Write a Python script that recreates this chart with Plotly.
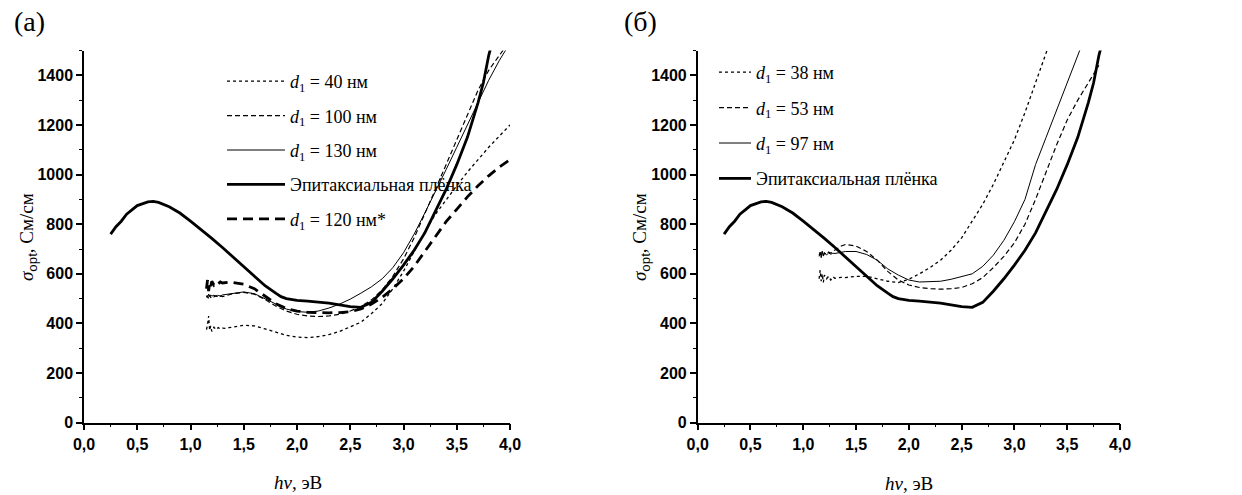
import plotly.graph_objects as go

# ---------------- data ----------------
# common noisy start region of the thin-film spectra
hv_noise = [1.15, 1.16, 1.17, 1.18, 1.19, 1.20, 1.22, 1.24, 1.26, 1.28, 1.30, 1.33, 1.36]

# epitaxial film (same in both panels)
epi_hv = [0.25, 0.3, 0.35, 0.4, 0.5, 0.6, 0.65, 0.7, 0.8, 0.9, 1.0, 1.1, 1.2, 1.3, 1.4, 1.5,
          1.6, 1.7, 1.8, 1.85, 1.9, 2.0, 2.1, 2.2, 2.3, 2.4, 2.5, 2.6, 2.7, 2.8, 2.9, 3.0, 3.1,
          3.2, 3.3, 3.4, 3.5, 3.6, 3.7, 3.75, 3.8, 3.85]
epi_sigma = [760, 790, 812, 840, 875, 890, 892, 888, 870, 845, 812, 778, 743, 706, 668, 630,
             590, 552, 522, 508, 500, 493, 490, 487, 482, 475, 468, 465, 485, 530, 580, 635, 695,
             765, 850, 940, 1040, 1150, 1290, 1370, 1480, 1560]

# panel (a)
hv_a = [1.4, 1.5, 1.6, 1.7, 1.8, 1.9, 2.0, 2.1, 2.2, 2.3, 2.4, 2.5, 2.6, 2.7, 2.8, 2.9,
        3.0, 3.1, 3.2, 3.3, 3.4, 3.5, 3.6, 3.7, 3.8, 3.9, 4.0]
a_d40_noise = [375, 395, 430, 372, 390, 368, 385, 375, 383, 378, 381, 380, 383]
a_d40 = [385, 393, 390, 378, 365, 352, 345, 343, 347, 355, 368, 385, 405, 440, 480, 540,
         610, 690, 770, 840, 900, 955, 1010, 1060, 1110, 1155, 1200]
a_d100_noise = [505, 512, 500, 515, 503, 510, 507, 513, 505, 511, 508, 512, 515]
a_d100 = [520, 525, 518, 497, 470, 450, 437, 430, 428, 430, 437, 450, 468, 495, 535, 590,
          660, 745, 840, 940, 1040, 1140, 1240, 1340, 1420, 1480, 1540]
a_d130_noise = [512, 505, 518, 508, 515, 510, 514, 508, 513, 510, 515, 517, 520]
a_d130 = [522, 527, 520, 500, 478, 458, 448, 445, 450, 462, 478, 498, 522, 548, 580, 625,
          685, 760, 845, 930, 1020, 1110, 1200, 1290, 1380, 1460, 1530]
a_d120_noise = [540, 575, 530, 565, 550, 570, 555, 565, 560, 567, 563, 566, 566]
a_d120 = [565, 558, 540, 510, 480, 460, 450, 445, 443, 443, 444, 447, 458, 478, 505, 540,
          580, 630, 690, 750, 810, 860, 910, 955, 995, 1030, 1060]

# panel (b)
hv_b38 = [1.4, 1.5, 1.6, 1.7, 1.8, 1.9, 2.0, 2.1, 2.2, 2.3, 2.4, 2.5, 2.6, 2.7, 2.8, 2.9,
          3.0, 3.1, 3.2, 3.3, 3.35]
b_d38_noise = [580, 615, 570, 600, 565, 595, 580, 590, 575, 588, 582, 585, 586]
b_d38 = [585, 590, 590, 580, 570, 565, 578, 600, 625, 655, 695, 745, 810, 880, 960, 1050,
         1140, 1250, 1370, 1490, 1550]
hv_b53 = [1.4, 1.5, 1.6, 1.7, 1.8, 1.9, 2.0, 2.1, 2.2, 2.3, 2.4, 2.5, 2.6, 2.7, 2.8, 2.9,
          3.0, 3.1, 3.2, 3.3, 3.4, 3.5, 3.6, 3.7, 3.8]
b_d53_noise = [675, 685, 670, 690, 672, 684, 678, 688, 683, 692, 696, 705, 712]
b_d53 = [718, 712, 690, 655, 610, 575, 555, 545, 540, 538, 540, 545, 560, 585, 625, 670,
         725, 800, 900, 1010, 1120, 1220, 1300, 1370, 1440]
hv_b97 = [1.4, 1.5, 1.6, 1.7, 1.8, 1.9, 2.0, 2.1, 2.2, 2.3, 2.4, 2.5, 2.6, 2.7, 2.8, 2.9,
          3.0, 3.1, 3.2, 3.3, 3.4, 3.5, 3.6, 3.7]
b_d97_noise = [670, 688, 665, 690, 672, 685, 676, 684, 679, 683, 682, 685, 687]
b_d97 = [690, 690, 678, 655, 620, 595, 575, 567, 567, 570, 578, 590, 600, 630, 675, 735,
         810, 900, 1040, 1150, 1260, 1370, 1480, 1590]

names_a = ["<i>d</i><sub>1</sub> = 40 нм", "<i>d</i><sub>1</sub> = 100 нм",
           "<i>d</i><sub>1</sub> = 130 нм", "Эпитаксиальная плёнка",
           "<i>d</i><sub>1</sub> = 120 нм*"]
names_b = ["<i>d</i><sub>1</sub> = 38 нм", "<i>d</i><sub>1</sub> = 53 нм",
           "<i>d</i><sub>1</sub> = 97 нм", "Эпитаксиальная плёнка"]

x_ticks = [0.0, 0.5, 1.0, 1.5, 2.0, 2.5, 3.0, 3.5, 4.0]
x_ticklabels = ["0,0", "0,5", "1,0", "1,5", "2,0", "2,5", "3,0", "3,5", "4,0"]

x_title = "<i>hν</i>, эВ"
y_title = "<i>σ</i><sub><span style='font-family:Liberation Sans'>opt</span></sub>, См/см"

# ---------------- styles ----------------
SERIF = "Liberation Serif"
SANS = "Liberation Sans"
thin_dot = dict(color="black", width=1.3, dash="dot")
thin_dash = dict(color="black", width=1.2, dash="5px,3px")
thin_solid = dict(color="black", width=1.0)
thick_solid = dict(color="black", width=2.8)
thick_dash = dict(color="black", width=2.8, dash="10px,6px")

fig = go.Figure()


def add(x, y, name, line, xa, ya, legend, group):
    fig.add_trace(go.Scatter(x=x, y=y, name=name, mode="lines", line=line,
                             xaxis=xa, yaxis=ya, legend=legend, legendgroup=group))


# panel (a)
add(hv_noise + hv_a, a_d40_noise + a_d40, names_a[0], thin_dot, "x", "y", "legend", "a1")
add(hv_noise + hv_a, a_d100_noise + a_d100, names_a[1], thin_dash, "x", "y", "legend", "a2")
add(hv_noise + hv_a, a_d130_noise + a_d130, names_a[2], thin_solid, "x", "y", "legend", "a3")
add(epi_hv, epi_sigma, names_a[3], thick_solid, "x", "y", "legend", "a4")
add(hv_noise + hv_a, a_d120_noise + a_d120, names_a[4], thick_dash, "x", "y", "legend", "a5")

# panel (b)
add(hv_noise + hv_b38, b_d38_noise + b_d38, names_b[0], thin_dot, "x2", "y2", "legend2", "b1")
add(hv_noise + hv_b53, b_d53_noise + b_d53, names_b[1], thin_dash, "x2", "y2", "legend2", "b2")
add(hv_noise + hv_b97, b_d97_noise + b_d97, names_b[2], thin_solid, "x2", "y2", "legend2", "b3")
add(epi_hv, epi_sigma, names_b[3], thick_solid, "x2", "y2", "legend2", "b4")

W, H = 1242, 495


def xaxis(domain, anchor):
    return dict(domain=domain, anchor=anchor, range=[0, 4.0], tickvals=x_ticks,
                ticktext=x_ticklabels, showline=True, linecolor="black", linewidth=1.5,
                ticks="outside", ticklen=6, tickwidth=1.5, tickcolor="black",
                minor=dict(ticks="outside", ticklen=3, tickwidth=1.2, tickcolor="black",
                           dtick=0.25, tick0=0),
                showgrid=False, zeroline=False, automargin=False,
                tickfont=dict(family=SANS, size=16, color="black", weight="bold"))


def yaxis(domain, anchor):
    return dict(domain=domain, anchor=anchor, range=[0, 1500], dtick=200, tick0=0,
                showline=True, linecolor="black", linewidth=1.5,
                ticks="outside", ticklen=6, tickwidth=1.5, tickcolor="black",
                minor=dict(ticks="outside", ticklen=3, tickwidth=1.2, tickcolor="black",
                           dtick=100, tick0=0),
                showgrid=False, zeroline=False, automargin=False,
                tickfont=dict(family=SANS, size=16, color="black", weight="bold"))


def px_ann(text, x, y, size, angle=0, xanchor="center"):
    return dict(text=text, x=x / W, y=1 - y / H, xref="paper", yref="paper",
                xanchor=xanchor, yanchor="middle", showarrow=False, textangle=angle,
                font=dict(family=SERIF, size=size, color="black"))


ydom = [1 - 422.7 / H, 1 - 50.5 / H]
fig.update_layout(
    width=W, height=H,
    margin=dict(l=0, r=0, t=0, b=0, autoexpand=False),
    paper_bgcolor="white", plot_bgcolor="white",
    xaxis=xaxis([84 / W, 510 / W], "y"),
    yaxis=yaxis(ydom, "x"),
    xaxis2=xaxis([697.7 / W, 1120 / W], "y2"),
    yaxis2=yaxis(ydom, "x2"),
    legend=dict(x=222 / W, y=1 - 63 / H, xanchor="left", yanchor="top",
                bgcolor="rgba(0,0,0,0)", tracegroupgap=8, itemwidth=58,
                font=dict(family=SERIF, size=18, color="black")),
    legend2=dict(x=714 / W, y=1 - 54 / H, xanchor="left", yanchor="top",
                 bgcolor="rgba(0,0,0,0)", tracegroupgap=9, itemwidth=32,
                 font=dict(family=SERIF, size=18, color="black")),
    annotations=[
        px_ann("(а)", 12, 22, 28, xanchor="left"),
        px_ann("(б)", 622, 22, 28, xanchor="left"),
        px_ann(y_title, 28, 237, 19, angle=-90),
        px_ann(y_title, 641, 237, 19, angle=-90),
        px_ann(x_title, 298, 482, 19),
        px_ann(x_title, 909, 483, 19),
    ],
)

fig.write_html("out.html", config={"displayModeBar": False},
               post_script="document.body.style.margin='0px';document.body.style.overflow='hidden';")
